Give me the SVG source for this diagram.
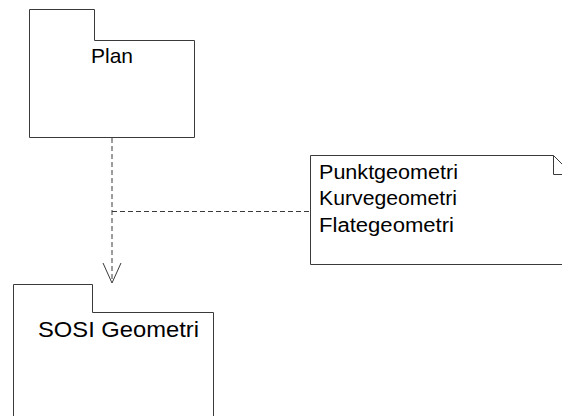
<svg xmlns="http://www.w3.org/2000/svg" width="562" height="416" viewBox="0 0 562 416">
  <style>
    .shape { fill: #ffffff; stroke: #3a3a3a; stroke-width: 1; }
    .dep { fill: none; stroke: #3a3a3a; stroke-width: 1; stroke-dasharray: 5 3; }
    .head { fill: none; stroke: #3a3a3a; stroke-width: 1; }
    .label { font-family: "Liberation Sans", Arial, sans-serif; fill: #000000; }
  </style>
  <rect width="562" height="416" fill="#ffffff"/>

  <!-- package: Plan -->
  <g id="plan">
    <path class="shape" d="M29.5,9.5 H94.5 V40.5 H194.5 V137.5 H29.5 Z"/>
    <text class="label" x="112" y="63" font-size="21" text-anchor="middle" textLength="42" lengthAdjust="spacingAndGlyphs">Plan</text>
  </g>

  <!-- package: SOSI Geometri -->
  <g id="sosi-geometri">
    <path class="shape" d="M13.5,284.5 H92.5 V312.5 H213.5 V430 H13.5 Z"/>
    <text class="label" x="38" y="336.5" font-size="22" textLength="161" lengthAdjust="spacingAndGlyphs">SOSI Geometri</text>
  </g>

  <!-- note with folded corner -->
  <g id="note">
    <path class="shape" d="M310.5,155.5 H553.5 L572,174 V264.5 H310.5 Z"/>
    <path class="head" d="M553.5,155.5 V174.5 H572"/>
    <text class="label" x="319" y="179" font-size="20" textLength="139" lengthAdjust="spacingAndGlyphs">Punktgeometri</text>
    <text class="label" x="319" y="205" font-size="20" textLength="138" lengthAdjust="spacingAndGlyphs">Kurvegeometri</text>
    <text class="label" x="319" y="231.5" font-size="20" textLength="135" lengthAdjust="spacingAndGlyphs">Flategeometri</text>
  </g>

  <!-- connectors -->
  <g id="connectors">
    <path class="dep" d="M112,138 V282"/>
    <path class="head" d="M103,263 L112,283 L121,263"/>
    <path class="dep" d="M112,211.5 H310"/>
  </g>
</svg>
